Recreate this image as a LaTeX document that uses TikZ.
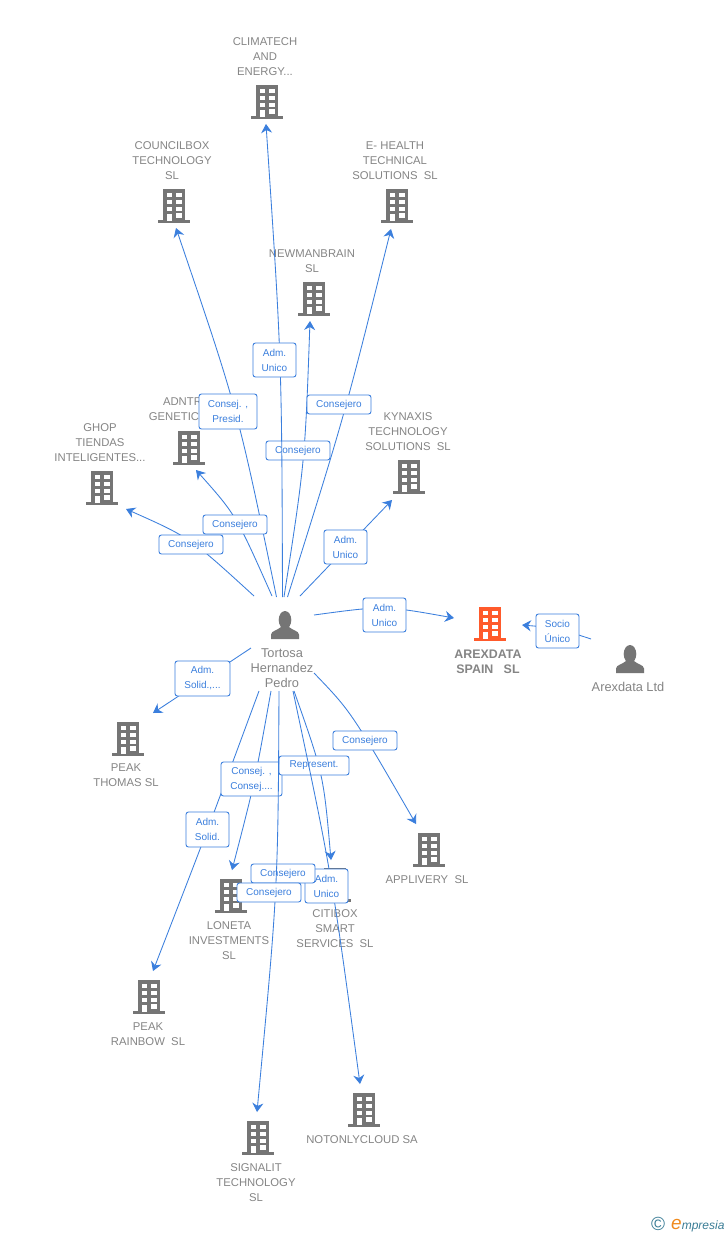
\documentclass[tikz,border=0pt]{standalone}
\usepackage{fontspec}
\setmainfont{Liberation Sans}
\usetikzlibrary{arrows.meta,calc}
\definecolor{edgeblue}{HTML}{3B7FDD}
\definecolor{icongray}{HTML}{757575}
\definecolor{textgray}{HTML}{858585}
\definecolor{hotorange}{HTML}{FF5A2B}
\definecolor{logoteal}{HTML}{3A7D96}
\definecolor{logoorange}{HTML}{F08A1D}
\tikzset{
  edgeline/.style={draw=edgeblue,line width=0.85pt},
  arrowed/.style={edgeline,-{Stealth[length=9pt,width=11pt,inset=3pt]}},
  tag/.style={draw=edgeblue,line width=0.9pt,fill=white,rounded corners=2.5pt,inner sep=0pt,
    text=edgeblue,align=center,font=\fontsize{10}{15}\selectfont},
  caption/.style={inner sep=0pt,align=center,text=textgray,yshift=-1pt,font=\fontsize{11.3}{15}\selectfont},
  wide caption/.style={caption,font=\fontsize{12.8}{15}\selectfont},
  iconbox/.style={inner sep=0pt,minimum width=32pt,minimum height=34pt},
}
% #1 node name, #2 x, #3 top y, #4 colour
\newcommand{\bld}[4]{%
  \node[iconbox] (#1) at (#2,#3+17) {};
  \begin{scope}[shift={(#2,#3)}]
    \fill[#4] (-11,0) rectangle (11,32);
    \fill[#4] (-16,31) rectangle (16,34);
    \foreach \yy/\hh in {3.5/4.5,10.5/4.5,17.5/4.2}{
      \fill[white] (-7.5,\yy) rectangle (-2,\yy+\hh);
      \fill[white] (2,\yy) rectangle (7.5,\yy+\hh);
    }
    \fill[white] (-7.5,24.5) rectangle (-2,32);
    \fill[white] (2,24) rectangle (7.5,28.5);
  \end{scope}}
% #1 node name, #2 x, #3 top y
\newcommand{\psn}[3]{%
  \node[inner sep=0pt,minimum width=28pt,minimum height=28pt] (#1) at (#2,#3+14) {};
  \begin{scope}[shift={(#2,#3)}]
    \fill[icongray] (0,9) ellipse (6.3 and 9);
    \fill[icongray] (-14,28) -- (-14,23.5) .. controls (-14,20) and (-7,19) .. (-4,16) -- (4,16)
      .. controls (7,19) and (14,20) .. (14,23.5) -- (14,28) -- cycle;
  \end{scope}}
% #1 id, #2 start, #3 point on curve, #4 end, #5 style
\newcommand{\conn}[5]{%
  \coordinate (#1s) at (#2);
  \coordinate (#1v) at (#3);
  \coordinate (#1e) at (#4);
  \draw[#5] (#1s) .. controls ($($(#1s)!.5!(#1e)$)!2!(#1v)$) .. (#1e);}
% #1 name, #2 x1, #3 y1, #4 x2, #5 y2, #6 text
\newcommand{\tagbox}[6]{%
  \node[tag,minimum width=#4pt-#2pt,minimum height=#5pt-#3pt] (#1) at ({(#2+#4)/2},{(#3+#5)/2}) {#6};}
\begin{document}
\begin{tikzpicture}[x=1pt,y=-1pt]
\useasboundingbox (0,0) rectangle (728,1235);
\fill[white] (0,0) rectangle (728,1235);

% building icons
\bld{climatech}{267}{85}{icongray}
\bld{councilbox}{174}{189}{icongray}
\bld{ehealth}{397}{189}{icongray}
\bld{newmanbrain}{314}{282}{icongray}
\bld{adntr}{189}{431}{icongray}
\bld{ghop}{102}{471}{icongray}
\bld{kynaxis}{409}{460}{icongray}
\bld{arexdata}{490}{607}{hotorange}
\bld{peakthomas}{128}{722}{icongray}
\bld{loneta}{231}{879}{icongray}
\bld{citibox}{335}{868}{icongray}
\bld{applivery}{429}{833}{icongray}
\bld{peakrainbow}{149}{980}{icongray}
\bld{notonly}{364}{1093}{icongray}
\bld{signalit}{258}{1121}{icongray}
\psn{tortosa}{285}{611}
\psn{arexltd}{630}{645}

% captions
\node[caption] (climatechT) at (265,56) {CLIMATECH\\AND\\ENERGY...};
\node[caption] (councilboxT) at (172,160) {COUNCILBOX\\TECHNOLOGY\\SL};
\node[caption] (ehealthT) at (395,160) {E- HEALTH\\TECHNICAL\\SOLUTIONS\ \ SL};
\node[caption] (newmanbrainT) at (312,260.5) {NEWMANBRAIN\\SL};
\node[caption] (adntrT) at (189,408.5) {ADNTR\rule{13pt}{0pt}\\GENETIC\rule{30pt}{0pt}};
\node[caption] (ghopT) at (100,442) {GHOP\\TIENDAS\\INTELIGENTES...};
\node[caption] (kynaxisT) at (408,431) {KYNAXIS\\TECHNOLOGY\\SOLUTIONS\ \ SL};
\node[caption,font=\fontsize{12.4}{15}\selectfont\bfseries] (arexdataT) at (488,660.5) {AREXDATA\\SPAIN\ \ \ SL};
\node[wide caption] (arexltdT) at (628,686) {Arexdata Ltd};
\node[wide caption] (tortosaT) at (282,667) {Tortosa\\Hernandez\\Pedro};
\node[caption] (peakthomasT) at (126,774.5) {PEAK\\THOMAS SL};
\node[caption] (lonetaT) at (229,940) {LONETA\\INVESTMENTS\\SL};
\node[caption] (citiboxT) at (335,928) {CITIBOX\\SMART\\SERVICES\ \ SL};
\node[caption] (appliveryT) at (427,879) {APPLIVERY\ \ SL};
\node[caption] (peakrainbowT) at (148,1033.5) {PEAK\\RAINBOW\ \ SL};
\node[caption] (notonlyT) at (362,1139) {NOTONLYCLOUD SA};
\node[caption] (signalitT) at (256,1182) {SIGNALIT\\TECHNOLOGY\\SL};

% connectors and their labels
\conn{e1}{276.5,597}{232,411}{176,228}{arrowed}
\tagbox{t1}{199}{394}{257}{429}{Consej. ,\\Presid.}
\conn{e2}{284,597}{301,460}{310,321}{arrowed}
\tagbox{t2}{266}{441}{330}{460}{Consejero}
\conn{e3}{282.5,597}{278,360}{266,124}{arrowed}
\tagbox{t3}{253}{343}{296}{377}{Adm.\\Unico}
\conn{e4}{287.5,597}{342,414}{391,229}{arrowed}
\tagbox{t4}{307}{395}{371}{414}{Consejero}
\conn{e5}{272,596}{235,524}{196,470}{arrowed}
\tagbox{t5}{203}{515}{267}{534}{Consejero}
\conn{e6}{254,596}{190,545}{126,509}{arrowed}
\tagbox{t6}{159}{535}{223}{554}{Consejero}
\conn{e7}{300,596}{346,548}{392,500}{arrowed}
\tagbox{t7}{324}{530}{367}{564}{Adm.\\Unico}
\conn{e8}{314,615}{384,611}{454,618}{arrowed}
\tagbox{t8}{363}{598}{406}{632}{Adm.\\Unico}
\conn{e9}{591,639}{557,630}{522,625}{arrowed}
\tagbox{t9}{536}{614}{579}{648}{Socio\\Único}
\conn{e10}{251,648}{203,680}{153,713}{arrowed}
\tagbox{t10}{175}{661}{230}{696}{Adm.\\Solid.,...}
\conn{e11}{259,691}{207,830}{153,971}{arrowed}
\tagbox{t11}{186}{812}{229}{847}{Adm.\\Solid.}
\conn{e12}{271,691}{253,782}{232,870}{arrowed}
\tagbox{t12}{221}{762}{282}{796}{Consej. ,\\Consej....}
\conn{e13}{294,691}{318,775}{331,860}{arrowed}
\tagbox{t13}{279}{756}{349}{775}{Represent.}
\conn{e14}{314,673}{358,730}{416,824}{arrowed}
\tagbox{t14}{333}{731}{397}{750}{Consejero}
\conn{e15}{293,691}{329,880}{360,1084}{arrowed}
\tagbox{t15}{305}{869}{348}{903}{Adm.\\Unico}
\tagbox{t16}{251}{864}{315}{883}{Consejero}
\conn{e16}{279,691}{273,895}{257,1112}{arrowed}
\tagbox{t17}{237}{883}{301}{902}{Consejero}

% logo
\node[inner sep=0pt,text=logoteal,font=\fontsize{19}{19}\selectfont] (logoc) at (658,1224) {©};
\node[inner sep=0pt,anchor=base west,font=\itshape\fontsize{12}{15}\selectfont] (logot) at (671,1229)
  {\textcolor{logoorange}{\fontsize{19}{15}\selectfont e}\textcolor{logoteal}{mpresia}};
\end{tikzpicture}
\end{document}
